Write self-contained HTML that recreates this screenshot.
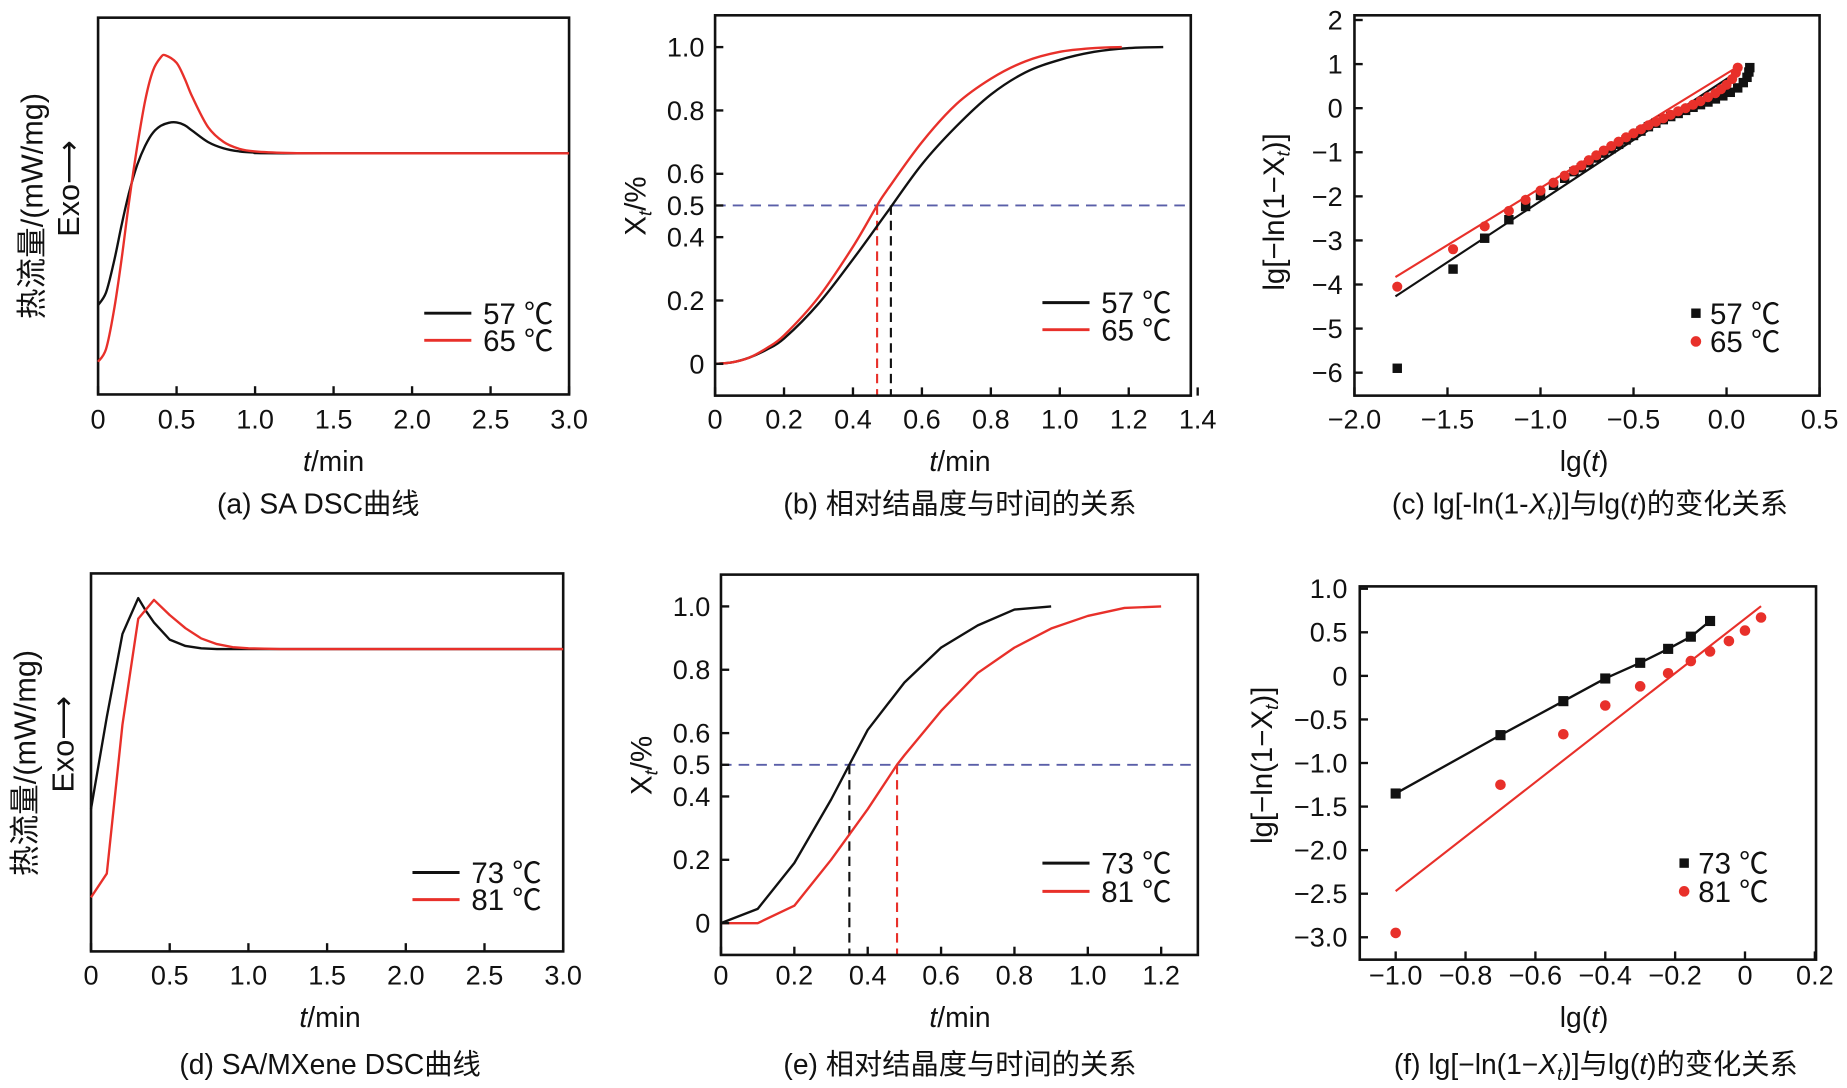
<!DOCTYPE html>
<html><head><meta charset="utf-8"><style>
html,body{margin:0;padding:0;background:#fff;}
svg{display:block;font-family:"Liberation Sans","Noto Sans CJK SC",sans-serif;}
</style></head><body>
<svg id="fig" width="1847" height="1088" viewBox="0 0 1568 924" xmlns="http://www.w3.org/2000/svg"></svg>
<script>
// ---- data ----
const aT=[0,0.05,0.1,0.15,0.2,0.25,0.3,0.35,0.4,0.45,0.5,0.55,0.6,0.7,0.8,0.9,1.0,1.2,3.0];
const aBlack=[23.7,27,35,45,54,61,66,69.5,71.3,72.1,72.2,71.5,70,67,65.3,64.5,64.2,64,64];
const aRedT=[0,0.05,0.1,0.15,0.2,0.25,0.3,0.35,0.4,0.43,0.5,0.55,0.6,0.7,0.8,0.9,1.0,1.2,1.5,3.0];
const aRed=[8.7,12,22,36,52,66,78,86,89.5,90,88,84,79,71,67,65.2,64.5,64.1,64,64];
const bBlackT=[0,0.05,0.1,0.15,0.2,0.3,0.4,0.5,0.6,0.7,0.8,0.9,1.0,1.1,1.2,1.3];
const bBlack=[0,0.005,0.02,0.045,0.08,0.19,0.33,0.48,0.63,0.75,0.85,0.92,0.96,0.985,0.997,1.0];
const bRedT=[0,0.05,0.1,0.15,0.2,0.3,0.4,0.47,0.5,0.6,0.7,0.8,0.9,1.0,1.1,1.18];
const bRed=[0,0.005,0.02,0.05,0.09,0.21,0.37,0.5,0.55,0.70,0.82,0.90,0.955,0.985,0.997,1.0];
const bHalf=[0.47,0.51];
const cBlackX=[-1.77,-1.47,-1.30,-1.17,-1.08,-1.0,-0.93,-0.87,-0.82,-0.78,-0.74,-0.70,-0.66,-0.62,-0.58,-0.54,-0.50,-0.46,-0.42,-0.38,-0.34,-0.30,-0.26,-0.22,-0.18,-0.14,-0.10,-0.06,-0.02,0.02,0.06,0.09,0.11,0.12,0.125];
const cBlackY=[-5.9,-3.65,-2.95,-2.53,-2.23,-1.98,-1.75,-1.59,-1.44,-1.35,-1.24,-1.13,-1.02,-0.92,-0.82,-0.72,-0.62,-0.52,-0.42,-0.34,-0.26,-0.19,-0.12,-0.05,0.02,0.08,0.14,0.21,0.28,0.36,0.46,0.58,0.7,0.82,0.92];
const cRedX=[-1.77,-1.47,-1.30,-1.17,-1.08,-1.0,-0.93,-0.87,-0.82,-0.78,-0.74,-0.70,-0.66,-0.62,-0.58,-0.54,-0.50,-0.46,-0.42,-0.38,-0.34,-0.30,-0.26,-0.22,-0.18,-0.14,-0.10,-0.06,-0.03,0.0,0.03,0.05,0.06];
const cRedY=[-4.05,-3.2,-2.68,-2.33,-2.08,-1.87,-1.69,-1.53,-1.41,-1.3,-1.18,-1.07,-0.96,-0.86,-0.76,-0.66,-0.57,-0.48,-0.39,-0.31,-0.23,-0.15,-0.07,0.0,0.08,0.16,0.25,0.34,0.43,0.53,0.66,0.8,0.92];
const cFitBlack=[[-1.78,-4.27],[0.06,0.83]];
const cFitRed=[[-1.78,-3.83],[0.06,0.94]];
const dT=[0,0.1,0.2,0.3,0.35,0.4,0.5,0.6,0.7,0.8,1.0,3.0];
const dBlack=[37.7,62,84,93.5,90,87,82.5,80.8,80.2,80,80,80];
const dRedT=[0,0.1,0.2,0.3,0.4,0.5,0.6,0.7,0.8,0.9,1.0,1.2,3.0];
const dRed=[14.3,20.6,60,88,93,89,85.5,82.8,81.3,80.5,80.2,80,80];
const eBlackT=[0,0.1,0.2,0.3,0.35,0.4,0.5,0.6,0.7,0.8,0.9];
const eBlack=[0,0.045,0.19,0.39,0.5,0.61,0.76,0.87,0.94,0.99,1.0];
const eRedT=[0,0.1,0.2,0.3,0.4,0.48,0.5,0.6,0.7,0.8,0.9,1.0,1.1,1.2];
const eRed=[0,0.0,0.055,0.2,0.36,0.5,0.53,0.67,0.79,0.87,0.93,0.97,0.995,1.0];
const eHalf=[0.35,0.48];
const fBlackX=[-1.0,-0.7,-0.52,-0.4,-0.3,-0.22,-0.155,-0.1];
const fBlackY=[-1.35,-0.68,-0.29,-0.03,0.15,0.31,0.45,0.63];
const fRedX=[-1.0,-0.7,-0.52,-0.4,-0.3,-0.22,-0.155,-0.1,-0.046,0.0,0.046];
const fRedY=[-2.95,-1.25,-0.67,-0.34,-0.12,0.03,0.17,0.28,0.4,0.52,0.67];
const fFitRed=[[-1.0,-2.47],[0.046,0.8]];
const abTicks=[0,0.5,1.0,1.5,2.0,2.5,3.0];
const bXTicks=[0,0.2,0.4,0.6,0.8,1.0,1.2,1.4];
const eXTicks=[0,0.2,0.4,0.6,0.8,1.0,1.2];
const xtYTicks=[0,0.2,0.4,0.5,0.6,0.8,1.0];
const cXTicks=[-2.0,-1.5,-1.0,-0.5,0.0,0.5];
const cYTicks=[2,1,0,-1,-2,-3,-4,-5,-6];
const fXTicks=[-1.0,-0.8,-0.6,-0.4,-0.2,0,0.2];
const fYTicks=[1.0,0.5,0,-0.5,-1.0,-1.5,-2.0,-2.5,-3.0];

const NS="http://www.w3.org/2000/svg";
const svg=document.getElementById('fig');
const RED="#e8302a";
const FS=23;
function el(tag,attrs,parent,text){const e=document.createElementNS(NS,tag);for(const k in attrs)e.setAttribute(k,attrs[k]);if(text!==undefined)e.textContent=text;(parent||svg).appendChild(e);return e;}
function fmt(v,d){let s=v.toFixed(d);if(v===0&&d===0)s='0';if(v<0)s='\u2212'+s.slice(1);return s;}
function panel(name,px0,px1,py0,py1,dx0,dx1,dy0,dy1){
  const g=el('g',{});
  
  
  const X=v=>px0+(v-dx0)/(dx1-dx0)*(px1-px0);
  const Y=v=>py0+(v-dy0)/(dy1-dy0)*(py1-py0);
  return {g,X,Y,px0,px1,py0,py1};
}
function frame(p,l,r,b,t){const rr=el('rect',{x:l,y:t,width:r-l,height:b-t,fill:'none',stroke:'#111','stroke-width':2.2},p.g);
  }
function xticks(p,ticks,dec,by,ly,zeroPlain){
  const g=el('g',{},p.g);
  ticks.forEach(v=>{const x=p.X(v);el('line',{x1:x,x2:x,y1:by,y2:by-7,stroke:'#111','stroke-width':2},g);
    const t=el('text',{x:x,y:ly,'font-size':FS,'text-anchor':'middle',fill:'#111'},g,(zeroPlain&&v===0)?'0':fmt(v,dec));
    });
}
function yticks(p,ticks,dec,bx,lx){
  const g=el('g',{},p.g);
  ticks.forEach(v=>{const y=p.Y(v);el('line',{x1:bx,x2:bx+7,y1:y,y2:y,stroke:'#111','stroke-width':2},g);
    const t=el('text',{x:lx,y:y+8,'font-size':FS,'text-anchor':'end',fill:'#111'},g,v===0?'0':fmt(v,dec));
    });
}
function smoothPath(pts){let d='M'+pts[0][0].toFixed(1)+','+pts[0][1].toFixed(1);
  for(let i=0;i<pts.length-1;i++){const p0=pts[Math.max(0,i-1)],p1=pts[i],p2=pts[i+1],p3=pts[Math.min(pts.length-1,i+2)];
    const c1=[p1[0]+(p2[0]-p0[0])/6,p1[1]+(p2[1]-p0[1])/6],c2=[p2[0]-(p3[0]-p1[0])/6,p2[1]-(p3[1]-p1[1])/6];
    d+=' C'+c1[0].toFixed(1)+','+c1[1].toFixed(1)+' '+c2[0].toFixed(1)+','+c2[1].toFixed(1)+' '+p2[0].toFixed(1)+','+p2[1].toFixed(1);}
  return d;}
function line(p,xs,ys,color,name,w,smooth){const pts=xs.map((x,i)=>[p.X(x),p.Y(ys[i])]);
  let l;
  if(smooth)l=el('path',{d:smoothPath(pts),fill:'none',stroke:color,'stroke-width':w||2},p.g);
  else l=el('polyline',{points:pts.map(q=>q[0].toFixed(1)+','+q[1].toFixed(1)).join(' '),fill:'none',stroke:color,'stroke-width':w||2,'stroke-linejoin':'round'},p.g);
  }
function markers(p,xs,ys,color,shape,name,sz){const g=el('g',{},p.g);
  xs.forEach((x,i)=>{const cx=p.X(x),cy=p.Y(ys[i]);
    if(shape==='sq')el('rect',{x:cx-sz,y:cy-sz,width:2*sz,height:2*sz,fill:color},g);else el('circle',{cx:cx,cy:cy,r:sz,fill:color},g);});}
function legendLine(p,x,y,color,label){const g=el('g',{},p.g);
  el('line',{x1:x,x2:x+40,y1:y,y2:y,stroke:color,'stroke-width':2.5},g);
  el('text',{x:x+50,y:y+9,'font-size':25,fill:'#111'},g,label);}
function legendMark(p,x,y,color,shape,label){const g=el('g',{},p.g);
  if(shape==='sq')el('rect',{x:x-4,y:y-4,width:8,height:8,fill:color},g);else el('circle',{cx:x,cy:y,r:4.5,fill:color},g);
  el('text',{x:x+12,y:y+9,'font-size':25,fill:'#111'},g,label);}
function txt(parent,attrs,html,name){const t=el('text',Object.assign({'font-size':FS,fill:'#111','text-anchor':'middle'},attrs),parent);t.innerHTML=html;
  return t;}
function dashV(p,v,color,by){el('line',{x1:p.X(v),x2:p.X(v),y1:p.Y(0.5),y2:by,stroke:color,'stroke-width':1.8,'stroke-dasharray':'8,5'},p.g);}
function dashH(p,v,l,r){el('line',{x1:l,x2:r,y1:p.Y(v),y2:p.Y(v),stroke:'#5a5fa8','stroke-width':1.6,'stroke-dasharray':'9,6'},p.g);}
const Tmin='<tspan font-style="italic">t</tspan>/min';
const Ylab='lg[\u2212ln(1\u2212X<tspan font-size="16" dy="5" font-style="italic">t</tspan><tspan dy="-5">)]</tspan>';

// (a)
let p=panel('panel-a',83,483,335,15,0,3,0,100);
frame(p,83,483,335,15);xticks(p,abTicks,1,335,364,true);
line(p,aT,aBlack,'#111','series-57c',2,true);line(p,aRedT,aRed,RED,'series-65c',2,true);
legendLine(p,360,266,'#111','57 \u2103');legendLine(p,360,289,RED,'65 \u2103');
txt(p.g,{x:283,y:400,'font-size':24},Tmin,'x-axis-title');
txt(p.g,{x:270,y:436,'font-size':24},'(a) SA DSC曲线','caption');
txt(p.g,{x:36,y:175,'font-size':26,transform:'rotate(-90 36 175)'},'热流量/(mW/mg)','y-axis-title');
txt(p.g,{x:67,y:160,'font-size':26,transform:'rotate(-90 67 160)'},'Exo\u27F6','y-axis-exo');

// (b)
p=panel('panel-b',607,1011,309,40,0,1.38,0,1.0);
dashH(p,0.5,607,1011);dashV(p,bHalf[0],RED,336);dashV(p,bHalf[1],'#111',336);
line(p,bBlackT,bBlack,'#111','series-57c',2,true);line(p,bRedT,bRed,RED,'series-65c',2,true);
frame(p,607,1011,336,13);
xticks(p,bXTicks,1,336,364,true);
yticks(p,xtYTicks,1,607,598);
legendLine(p,885,257,'#111','57 \u2103');legendLine(p,885,280,RED,'65 \u2103');
txt(p.g,{x:815,y:400,'font-size':24},Tmin,'x-axis-title');
txt(p.g,{x:815,y:436,'font-size':24},'(b) 相对结晶度与时间的关系','caption');
txt(p.g,{x:548,y:175,'font-size':25,transform:'rotate(-90 548 175)'},'X<tspan font-size="16" dy="5" font-style="italic">t</tspan><tspan dy="-5">/%</tspan>','y-axis-title');

// (c)
p=panel('panel-c',1150,1545,316.5,17,-2,0.5,-6,2);
frame(p,1150,1545,336,13);
line(p,cFitBlack.map(d=>d[0]),cFitBlack.map(d=>d[1]),'#111','fit-57c',1.8);
line(p,cFitRed.map(d=>d[0]),cFitRed.map(d=>d[1]),RED,'fit-65c',1.8);
markers(p,cBlackX,cBlackY,'#111','sq','points-57c',4);
markers(p,cRedX,cRedY,RED,'ci','points-65c',4.3);
xticks(p,cXTicks,1,336,364,false);
yticks(p,cYTicks,0,1150,1140);
legendMark(p,1440,266,'#111','sq','57 \u2103');legendMark(p,1440,290,RED,'ci','65 \u2103');
txt(p.g,{x:1345,y:400,'font-size':24},'lg(<tspan font-style="italic">t</tspan>)','x-axis-title');
txt(p.g,{x:1350,y:436,'font-size':24},'(c) lg[-ln(1-<tspan font-style="italic">X</tspan><tspan font-size="16" dy="5" font-style="italic">t</tspan><tspan dy="-5">)]与lg(</tspan><tspan font-style="italic">t</tspan>)的变化关系','caption');
txt(p.g,{x:1090,y:180,'font-size':25,transform:'rotate(-90 1090 180)'},Ylab,'y-axis-title');

// (d)
p=panel('panel-d',77,478,808,487,0,3,0,100);
frame(p,77,478,808,487);xticks(p,abTicks,1,808,836,true);
line(p,dT,dBlack,'#111','series-73c');line(p,dRedT,dRed,RED,'series-81c');
legendLine(p,350,741,'#111','73 \u2103');legendLine(p,350,764,RED,'81 \u2103');
txt(p.g,{x:280,y:872,'font-size':24},Tmin,'x-axis-title');
txt(p.g,{x:280,y:912,'font-size':24},'(d) SA/MXene DSC曲线','caption');
txt(p.g,{x:30,y:648,'font-size':26,transform:'rotate(-90 30 648)'},'热流量/(mW/mg)','y-axis-title');
txt(p.g,{x:62,y:632,'font-size':26,transform:'rotate(-90 62 632)'},'Exo\u27F6','y-axis-exo');

// (e)
p=panel('panel-e',612,1017,784,515,0,1.3,0,1.0);
dashH(p,0.5,612,1017);dashV(p,eHalf[0],'#111',811);dashV(p,eHalf[1],RED,811);
line(p,eBlackT,eBlack,'#111','series-73c');line(p,eRedT,eRed,RED,'series-81c');
frame(p,612,1017,811,488);
xticks(p,eXTicks,1,811,836,true);
yticks(p,xtYTicks,1,612,603);
legendLine(p,885,733,'#111','73 \u2103');legendLine(p,885,757,RED,'81 \u2103');
txt(p.g,{x:815,y:872,'font-size':24},Tmin,'x-axis-title');
txt(p.g,{x:815,y:912,'font-size':24},'(e) 相对结晶度与时间的关系','caption');
txt(p.g,{x:553,y:650,'font-size':25,transform:'rotate(-90 553 650)'},'X<tspan font-size="16" dy="5" font-style="italic">t</tspan><tspan dy="-5">/%</tspan>','y-axis-title');

// (f)
p=panel('panel-f',1185,1541,796,500,-1.0,0.2,-3.0,1.0);
line(p,fBlackX,fBlackY,'#111','fit-73c',2);
line(p,fFitRed.map(d=>d[0]),fFitRed.map(d=>d[1]),RED,'fit-81c',1.8);
markers(p,fBlackX,fBlackY,'#111','sq','points-73c',4.3);
markers(p,fRedX,fRedY,RED,'ci','points-81c',4.5);
frame(p,1154.5,1542,815,498);
xticks(p,fXTicks,1,815,836,true);
yticks(p,fYTicks,1,1154.5,1144);
legendMark(p,1430,733,'#111','sq','73 \u2103');legendMark(p,1430,757,RED,'ci','81 \u2103');
txt(p.g,{x:1345,y:872,'font-size':24},'lg(<tspan font-style="italic">t</tspan>)','x-axis-title');
txt(p.g,{x:1355,y:912,'font-size':24},'(f) lg[\u2212ln(1\u2212<tspan font-style="italic">X</tspan><tspan font-size="16" dy="5" font-style="italic">t</tspan><tspan dy="-5">)]与lg(</tspan><tspan font-style="italic">t</tspan>)的变化关系','caption');
txt(p.g,{x:1080,y:650,'font-size':25,transform:'rotate(-90 1080 650)'},Ylab,'y-axis-title');
</script>
</body></html>
